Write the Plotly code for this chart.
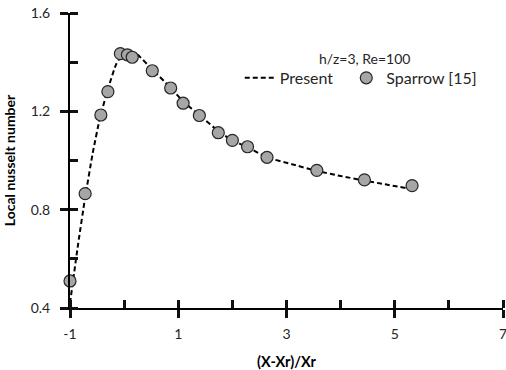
import plotly.graph_objects as go

# Data
present_x = [-1.0, -0.85, -0.72, -0.58, -0.45, -0.3, -0.15, -0.02, 0.1, 0.25, 0.5, 0.85,
             1.1, 1.4, 1.75, 2.0, 2.3, 2.65, 3.1, 3.55, 4.0, 4.45, 4.85, 5.2]
present_y = [0.42, 0.66, 0.85, 1.03, 1.17, 1.29, 1.39, 1.435, 1.445, 1.43, 1.375, 1.298,
             1.238, 1.183, 1.118, 1.082, 1.052, 1.012, 0.985, 0.958, 0.937, 0.918, 0.902, 0.888]

sparrow_x = [-1.0, -0.72, -0.43, -0.30, -0.07, 0.06, 0.15, 0.52, 0.86, 1.09, 1.39, 1.74,
             2.0, 2.28, 2.64, 3.56, 4.44, 5.32]
sparrow_y = [0.51, 0.865, 1.185, 1.28, 1.435, 1.43, 1.42, 1.365, 1.295, 1.233, 1.183, 1.113,
             1.082, 1.056, 1.013, 0.96, 0.921, 0.898]

x_ticks = [-1, 1, 3, 5, 7]
x_tick_labels = ["-1", "1", "3", "5", "7"]
y_ticks = [0.4, 0.8, 1.2, 1.6]
y_tick_labels = ["0.4", "0.8", "1.2", "1.6"]
x_range = [-1, 7]
y_range = [0.4, 1.6]

FONT = "Lato, 'Open Sans', sans-serif"

fig = go.Figure()
fig.add_trace(go.Scatter(
    x=present_x, y=present_y, mode="lines", name="Present  ",
    line=dict(color="black", width=2, dash="5px,3px", shape="spline", smoothing=0.5),
))
fig.add_trace(go.Scatter(
    x=sparrow_x, y=sparrow_y, mode="markers", name="Sparrow [15]", cliponaxis=False,
    marker=dict(size=12, color="#a6a6a6", line=dict(color="#262626", width=1.2)),
))

axis_common = dict(showgrid=False, zeroline=False)

fig.update_layout(
    width=506, height=370,
    margin=dict(l=70, r=3, t=13, b=62, autoexpand=False),
    paper_bgcolor="white", plot_bgcolor="white",
    font=dict(family=FONT, size=14, color="#262626"),
    xaxis=dict(
        range=x_range, tickmode="array", tickvals=x_ticks, ticktext=x_tick_labels,
        ticks="outside", ticklen=8, tickwidth=2.5, tickcolor="#111111",
        showline=True, linewidth=2, linecolor="black",
        minor=dict(dtick=1, tick0=-1, ticks="inside", ticklen=8, tickwidth=2.5, tickcolor="#111111"),
        ticklabelstandoff=4, ticklabeloverflow="allow", automargin=False,
        title=dict(text="<b>(X-Xr)/Xr</b>", font=dict(size=14.5, color="black"), standoff=16),
        **axis_common,
    ),
    yaxis=dict(
        range=y_range, tickmode="array", tickvals=y_ticks, ticktext=y_tick_labels,
        ticks="outside", ticklen=8, tickwidth=2.5, tickcolor="#111111",
        showline=True, linewidth=2, linecolor="black",
        minor=dict(dtick=0.2, tick0=0.4, ticks="inside", ticklen=8, tickwidth=2.5, tickcolor="#111111"),
        ticklabelstandoff=7, automargin=False,
        title=dict(text="<b>Local nusselt number</b>", font=dict(size=14, color="black"), standoff=12),
        **axis_common,
    ),
    legend=dict(
        orientation="h", x=0.392, y=0.78, xanchor="left", yanchor="middle",
        bgcolor="rgba(0,0,0,0)", font=dict(size=16, color="#262626"),
        itemwidth=30, traceorder="normal",
    ),
    showlegend=True,
    annotations=[dict(
        text="h/z=3, Re=100", x=0.68, y=0.847, xref="paper", yref="paper",
        showarrow=False, font=dict(size=14, color="#262626"), xanchor="center", yanchor="middle",
    )],
)

fig.write_html("out.html")
